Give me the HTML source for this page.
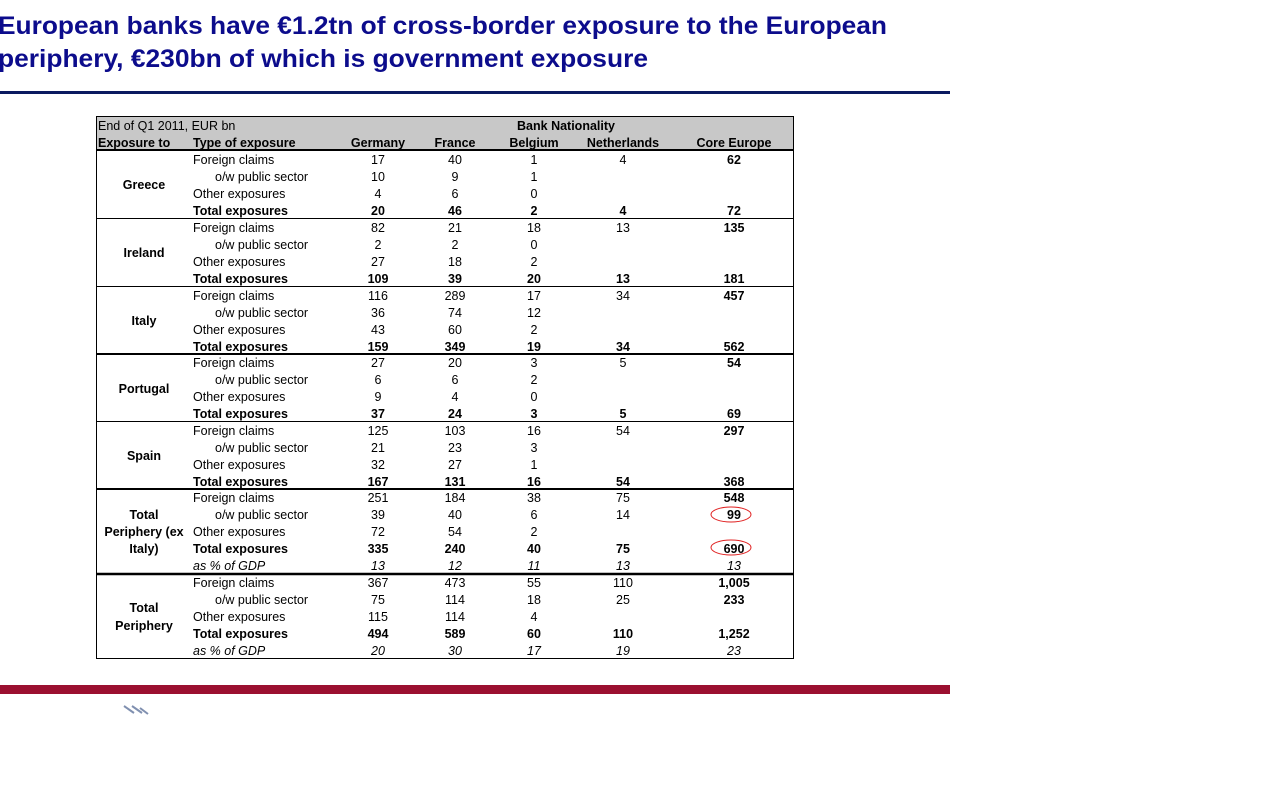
<!DOCTYPE html>
<html><head><meta charset="utf-8"><style>
html,body{margin:0;padding:0;background:#fff;}
svg{display:block;}
text{font-family:"Liberation Sans",Arial,sans-serif;font-size:12.5px;fill:#000;}
.b{font-weight:bold;}
.i{font-style:italic;}
.c text{text-anchor:middle;}
</style></head><body>
<svg width="1267" height="798" viewBox="0 0 1267 798">
<text x="-2" y="34" style="font-size:25px;font-weight:bold;fill:#0c0c8c" textLength="889" lengthAdjust="spacingAndGlyphs">European banks have €1.2tn of cross-border exposure to the European</text>
<text x="-2" y="67" style="font-size:25px;font-weight:bold;fill:#0c0c8c" textLength="650" lengthAdjust="spacingAndGlyphs">periphery, €230bn of which is government exposure</text>
<rect x="0" y="91" width="950" height="3" fill="#0a1a60"/>
<rect x="0" y="685" width="950" height="9" fill="#9b1030"/>
<path d="M124 706 L134 713 M132 706 L142 713 M140 708 L148 714" stroke="#8090b0" stroke-width="2"/>

<rect x="96" y="117" width="698" height="33" fill="#c8c8c8"/>
<rect x="96.5" y="116.5" width="697" height="542" fill="none" stroke="#000" stroke-width="1"/>
<g stroke="#000">
<line x1="96" x2="794" y1="150" y2="150" stroke-width="2"/>
<line x1="96" x2="794" y1="218.5" y2="218.5"/>
<line x1="96" x2="794" y1="286.5" y2="286.5"/>
<line x1="96" x2="794" y1="354" y2="354" stroke-width="2"/>
<line x1="96" x2="794" y1="421.5" y2="421.5"/>
<line x1="96" x2="794" y1="489" y2="489" stroke-width="2"/>
<line x1="96" x2="794" y1="574" y2="574" stroke-width="2.5"/>
</g>
<text x="98" y="130">End of Q1 2011, EUR bn</text>
<text x="566" y="130" class="b" text-anchor="middle">Bank Nationality</text>
<text x="98" y="147" class="b">Exposure to</text>
<text x="193" y="147" class="b">Type of exposure</text>
<g class="c b">
<text x="378" y="147">Germany</text><text x="455" y="147">France</text><text x="534" y="147">Belgium</text><text x="623" y="147">Netherlands</text><text x="734" y="147">Core Europe</text>
<text x="144" y="189">Greece</text>
<text x="144" y="257">Ireland</text>
<text x="144" y="325">Italy</text>
<text x="144" y="393">Portugal</text>
<text x="144" y="460">Spain</text>
<text x="144" y="519">Total</text>
<text x="144" y="536">Periphery (ex</text>
<text x="144" y="553">Italy)</text>
<text x="144" y="612">Total</text>
<text x="144" y="630">Periphery</text>
</g>
<!-- type labels -->
<g>
<text x="193" y="164">Foreign claims</text><text x="215" y="181">o/w public sector</text><text x="193" y="198">Other exposures</text><text x="193" y="215" class="b">Total exposures</text>
<text x="193" y="232">Foreign claims</text><text x="215" y="249">o/w public sector</text><text x="193" y="266">Other exposures</text><text x="193" y="283" class="b">Total exposures</text>
<text x="193" y="300">Foreign claims</text><text x="215" y="317">o/w public sector</text><text x="193" y="334">Other exposures</text><text x="193" y="351" class="b">Total exposures</text>
<text x="193" y="367">Foreign claims</text><text x="215" y="384">o/w public sector</text><text x="193" y="401">Other exposures</text><text x="193" y="418" class="b">Total exposures</text>
<text x="193" y="435">Foreign claims</text><text x="215" y="452">o/w public sector</text><text x="193" y="469">Other exposures</text><text x="193" y="486" class="b">Total exposures</text>
<text x="193" y="502">Foreign claims</text><text x="215" y="519">o/w public sector</text><text x="193" y="536">Other exposures</text><text x="193" y="553" class="b">Total exposures</text><text x="193" y="570" class="i">as % of GDP</text>
<text x="193" y="587">Foreign claims</text><text x="215" y="604">o/w public sector</text><text x="193" y="621">Other exposures</text><text x="193" y="638" class="b">Total exposures</text><text x="193" y="655" class="i">as % of GDP</text>
</g>
<g class="c">
<!-- Greece -->
<text x="378" y="164">17</text><text x="455" y="164">40</text><text x="534" y="164">1</text><text x="623" y="164">4</text><text x="734" y="164" class="b">62</text>
<text x="378" y="181">10</text><text x="455" y="181">9</text><text x="534" y="181">1</text>
<text x="378" y="198">4</text><text x="455" y="198">6</text><text x="534" y="198">0</text>
<g class="b"><text x="378" y="215">20</text><text x="455" y="215">46</text><text x="534" y="215">2</text><text x="623" y="215">4</text><text x="734" y="215">72</text></g>
<!-- Ireland -->
<text x="378" y="232">82</text><text x="455" y="232">21</text><text x="534" y="232">18</text><text x="623" y="232">13</text><text x="734" y="232" class="b">135</text>
<text x="378" y="249">2</text><text x="455" y="249">2</text><text x="534" y="249">0</text>
<text x="378" y="266">27</text><text x="455" y="266">18</text><text x="534" y="266">2</text>
<g class="b"><text x="378" y="283">109</text><text x="455" y="283">39</text><text x="534" y="283">20</text><text x="623" y="283">13</text><text x="734" y="283">181</text></g>
<!-- Italy -->
<text x="378" y="300">116</text><text x="455" y="300">289</text><text x="534" y="300">17</text><text x="623" y="300">34</text><text x="734" y="300" class="b">457</text>
<text x="378" y="317">36</text><text x="455" y="317">74</text><text x="534" y="317">12</text>
<text x="378" y="334">43</text><text x="455" y="334">60</text><text x="534" y="334">2</text>
<g class="b"><text x="378" y="351">159</text><text x="455" y="351">349</text><text x="534" y="351">19</text><text x="623" y="351">34</text><text x="734" y="351">562</text></g>
<!-- Portugal -->
<text x="378" y="367">27</text><text x="455" y="367">20</text><text x="534" y="367">3</text><text x="623" y="367">5</text><text x="734" y="367" class="b">54</text>
<text x="378" y="384">6</text><text x="455" y="384">6</text><text x="534" y="384">2</text>
<text x="378" y="401">9</text><text x="455" y="401">4</text><text x="534" y="401">0</text>
<g class="b"><text x="378" y="418">37</text><text x="455" y="418">24</text><text x="534" y="418">3</text><text x="623" y="418">5</text><text x="734" y="418">69</text></g>
<!-- Spain -->
<text x="378" y="435">125</text><text x="455" y="435">103</text><text x="534" y="435">16</text><text x="623" y="435">54</text><text x="734" y="435" class="b">297</text>
<text x="378" y="452">21</text><text x="455" y="452">23</text><text x="534" y="452">3</text>
<text x="378" y="469">32</text><text x="455" y="469">27</text><text x="534" y="469">1</text>
<g class="b"><text x="378" y="486">167</text><text x="455" y="486">131</text><text x="534" y="486">16</text><text x="623" y="486">54</text><text x="734" y="486">368</text></g>
<!-- Total ex Italy -->
<text x="378" y="502">251</text><text x="455" y="502">184</text><text x="534" y="502">38</text><text x="623" y="502">75</text><text x="734" y="502" class="b">548</text>
<text x="378" y="519">39</text><text x="455" y="519">40</text><text x="534" y="519">6</text><text x="623" y="519">14</text><text x="734" y="519" class="b">99</text>
<text x="378" y="536">72</text><text x="455" y="536">54</text><text x="534" y="536">2</text>
<g class="b"><text x="378" y="553">335</text><text x="455" y="553">240</text><text x="534" y="553">40</text><text x="623" y="553">75</text><text x="734" y="553">690</text></g>
<g class="i"><text x="378" y="570">13</text><text x="455" y="570">12</text><text x="534" y="570">11</text><text x="623" y="570">13</text><text x="734" y="570">13</text></g>
<!-- Total periphery -->
<text x="378" y="587">367</text><text x="455" y="587">473</text><text x="534" y="587">55</text><text x="623" y="587">110</text><text x="734" y="587" class="b">1,005</text>
<text x="378" y="604">75</text><text x="455" y="604">114</text><text x="534" y="604">18</text><text x="623" y="604">25</text><text x="734" y="604" class="b">233</text>
<text x="378" y="621">115</text><text x="455" y="621">114</text><text x="534" y="621">4</text>
<g class="b"><text x="378" y="638">494</text><text x="455" y="638">589</text><text x="534" y="638">60</text><text x="623" y="638">110</text><text x="734" y="638">1,252</text></g>
<g class="i"><text x="378" y="655">20</text><text x="455" y="655">30</text><text x="534" y="655">17</text><text x="623" y="655">19</text><text x="734" y="655">23</text></g>
</g>
<ellipse cx="731" cy="514.5" rx="20" ry="7.5" fill="none" stroke="#e02020" stroke-width="1"/>
<ellipse cx="731" cy="547.5" rx="20" ry="7.5" fill="none" stroke="#e02020" stroke-width="1"/>
</svg>
</body></html>
